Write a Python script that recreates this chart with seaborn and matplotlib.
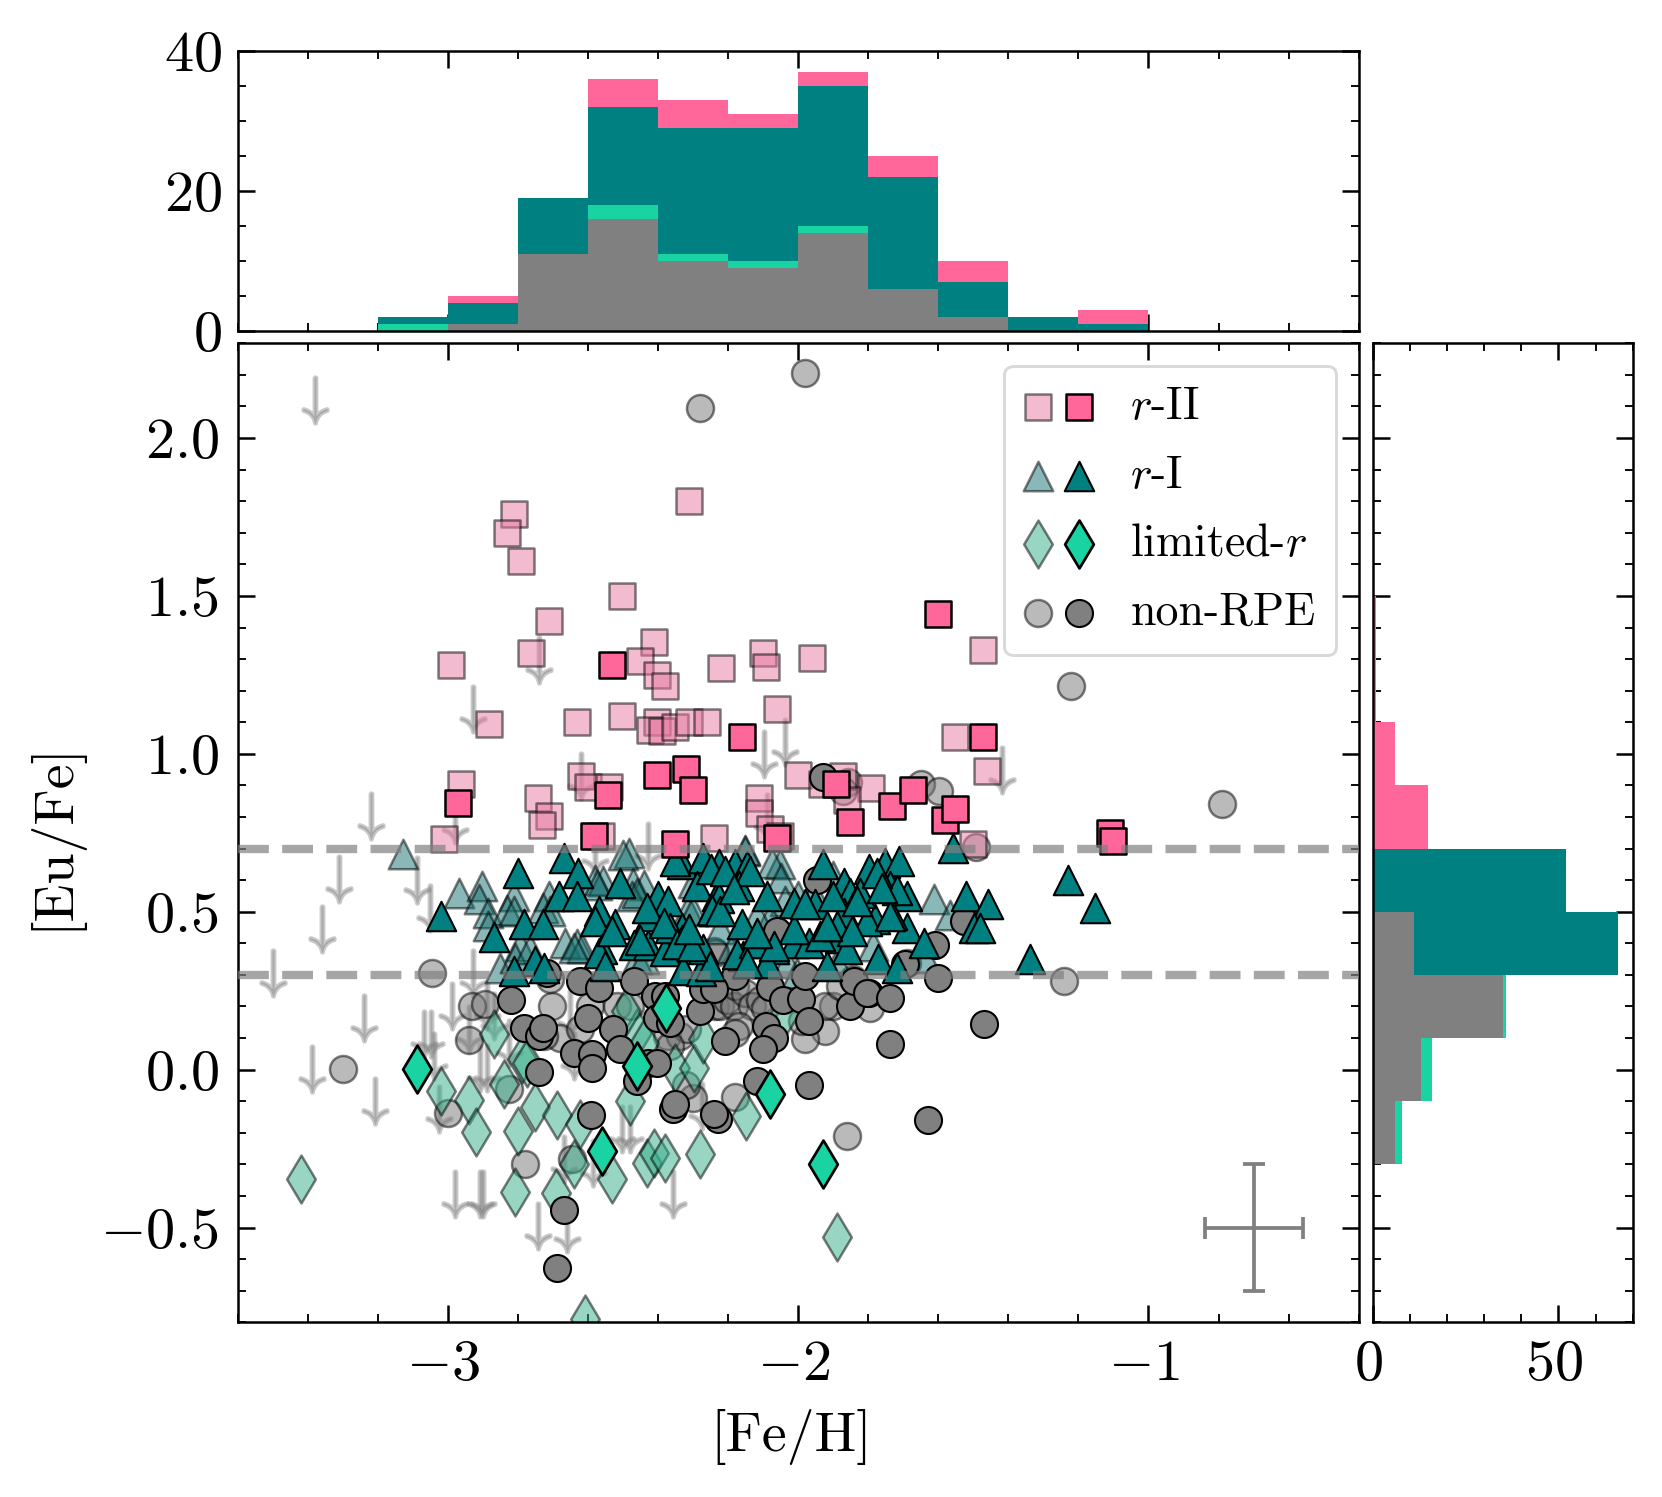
# -*- coding: utf-8 -*-
import numpy as np
import pandas as pd
import matplotlib
matplotlib.use('Agg')
import matplotlib.pyplot as plt
from matplotlib.legend_handler import HandlerTuple
from matplotlib.ticker import MultipleLocator
from matplotlib.transforms import ScaledTranslation
import seaborn as sns

sns.set_style('ticks')
plt.rcParams.update({
    'font.family': 'cmr10',
    'mathtext.fontset': 'cm',
    'axes.formatter.use_mathtext': True,
    'axes.unicode_minus': False,
    'axes.linewidth': 0.6,
    'xtick.direction': 'in', 'ytick.direction': 'in',
    'xtick.top': True, 'ytick.right': True,
    'xtick.major.size': 4, 'ytick.major.size': 4,
    'xtick.minor.size': 2, 'ytick.minor.size': 2,
    'xtick.major.width': 0.6, 'ytick.major.width': 0.6,
    'xtick.minor.width': 0.45, 'ytick.minor.width': 0.45,
    'xtick.color': 'k', 'ytick.color': 'k', 'axes.edgecolor': 'k',
    'text.color': 'k', 'axes.labelcolor': 'k',
    'font.size': 14,
})

# colours
PINK = '#ff6699'
TEAL = '#008080'
GREEN = '#19d3a2'
GRAY = '#808080'
# base colours of the see-through markers
PINK_L = '#e779a1'
TEAL_L = '#177171'
GREEN_L = '#35ad89'
GRAY_L = '#777777'

# ---- histogram counts ----
feh_edges = [-3.2, -3.0, -2.8, -2.6, -2.4, -2.2, -2.0, -1.8, -1.6, -1.4, -1.2, -1.0]
feh_total_rii = [2, 5, 19, 36, 33, 31, 37, 25, 10, 2, 3]
feh_total_ri = [2, 4, 19, 32, 29, 29, 35, 22, 7, 2, 1]
feh_total_lim = [1, 1, 11, 18, 11, 10, 15, 6, 2, 0, 0]
feh_total_non = [0, 1, 11, 16, 10, 9, 14, 6, 2, 0, 0]

eu_edges = [-0.3, -0.1, 0.1, 0.3, 0.5, 0.7, 0.9, 1.1, 1.3, 1.5]
eu_total_rii = [8, 16, 36, 66, 52, 15, 6, 1, 1]
eu_total_ri = [8, 16, 36, 66, 52, 0, 0, 0, 0]
eu_total_lim = [8, 16, 36, 11, 0, 0, 0, 0, 0]
eu_total_non = [6, 13, 35, 11, 0, 0, 0, 0, 0]

# ---- stars, ([Fe/H], [Eu/Fe]) ----
rii_dark = [(-2.97, 0.843), (-2.53, 1.282), (-2.542, 0.871), (-2.582, 0.739), (-2.403, 0.932),
            (-2.32, 0.953), (-2.30, 0.884), (-2.351, 0.713), (-2.161, 1.053), (-2.061, 0.732),
            (-1.893, 0.903), (-1.852, 0.784), (-1.733, 0.834), (-1.673, 0.884), (-1.602, 1.444),
            (-1.581, 0.792), (-1.552, 0.824), (-1.471, 1.053), (-1.11, 0.75), (-1.10, 0.724)]

rii_light = [(-2.311, 1.802), (-2.81, 1.761), (-2.83, 1.70), (-2.79, 1.612), (-2.502, 1.501),
             (-2.71, 1.422), (-2.41, 1.353), (-2.761, 1.32), (-2.99, 1.282), (-2.45, 1.293),
             (-2.402, 1.251), (-2.379, 1.214), (-2.219, 1.273), (-2.881, 1.093), (-2.63, 1.102),
             (-2.502, 1.121), (-2.402, 1.102), (-2.422, 1.074), (-2.389, 1.072), (-2.351, 1.084),
             (-2.311, 1.102), (-2.26, 1.102), (-2.961, 0.903), (-2.62, 0.931), (-2.601, 0.894),
             (-2.541, 0.894), (-2.742, 0.861), (-2.71, 0.803), (-2.73, 0.776), (-3.011, 0.729),
             (-2.562, 0.741), (-2.239, 0.732), (-2.099, 1.32), (-2.091, 1.274), (-1.961, 1.302),
             (-1.471, 1.33), (-2.061, 1.143), (-1.552, 1.053), (-1.462, 0.945), (-2.0, 0.932),
             (-1.873, 0.931), (-1.933, 0.903), (-1.793, 0.892), (-1.861, 0.855), (-2.111, 0.86),
             (-2.111, 0.813), (-2.08, 0.763), (-2.051, 0.74), (-1.502, 0.713)]

ri_dark = [(-2.80, 0.623), (-2.669, 0.671), (-2.629, 0.623), (-2.682, 0.549), (-2.630, 0.549),
           (-2.509, 0.590), (-2.783, 0.46), (-2.729, 0.46), (-2.869, 0.42), (-2.569, 0.502),
           (-2.579, 0.47), (-2.522, 0.46), (-2.560, 0.381), (-2.569, 0.37), (-2.55, 0.328),
           (-2.75, 0.344), (-2.726, 0.323), (-2.81, 0.312), (-2.469, 0.396), (-2.427, 0.396),
           (-2.40, 0.549), (-2.422, 0.486), (-2.37, 0.534), (-2.33, 0.449), (-2.379, 0.375),
           (-2.331, 0.412), (-2.329, 0.317), (-2.277, 0.312), (-2.27, 0.381), (-2.331, 0.65),
           (-2.35, 0.66), (-2.27, 0.671), (-2.289, 0.581), (-2.232, 0.549), (-2.24, 0.502),
           (-2.365, 0.449), (-1.930, 0.650), (-1.799, 0.634), (-1.752, 0.655), (-1.712, 0.660),
           (-1.737, 0.581), (-1.690, 0.549), (-1.870, 0.592), (-1.851, 0.56), (-1.951, 0.523),
           (-2.011, 0.528), (-2.089, 0.549), (-2.18, 0.65), (-2.146, 0.644), (-2.17, 0.581),
           (-2.137, 0.629), (-2.227, 0.65), (-2.227, 0.544), (-2.161, 0.46), (-1.78, 0.476),
           (-1.69, 0.449), (-1.642, 0.402), (-1.87, 0.497), (-1.733, 0.491), (-1.804, 0.47),
           (-1.88, 0.418), (-1.861, 0.381), (-2.011, 0.402), (-1.97, 0.402), (-1.937, 0.423),
           (-2.013, 0.444), (-2.07, 0.381), (-2.156, 0.36), (-2.175, 0.365), (-2.089, 0.338),
           (-1.918, 0.328), (-1.771, 0.349), (-1.718, 0.323), (-2.127, 0.402), (-1.9, 0.549),
           (-1.823, 0.56), (-1.718, 0.57), (-1.775, 0.623), (-2.251, 0.328), (-2.246, 0.507),
           (-2.146, 0.338), (-1.559, 0.703), (-1.231, 0.602), (-1.339, 0.349), (-1.152, 0.513),
           (-1.52, 0.55), (-1.459, 0.523), (-1.499, 0.449), (-1.48, 0.449), (-3.02, 0.488),
           (-2.531, 0.439), (-2.431, 0.512), (-2.384, 0.465), (-2.346, 0.397), (-2.303, 0.391),
           (-2.25, 0.634), (-2.45, 0.412), (-2.312, 0.444), (-2.208, 0.629), (-2.222, 0.502),
           (-2.184, 0.571), (-1.832, 0.534), (-1.737, 0.486), (-1.89, 0.454), (-1.847, 0.439),
           (-1.761, 0.576), (-1.918, 0.454), (-1.98, 0.523), (-2.07, 0.391), (-2.118, 0.433)]

ri_light = [(-3.129, 0.684), (-2.969, 0.56), (-2.903, 0.581), (-2.91, 0.539), (-2.884, 0.497),
            (-2.884, 0.455), (-2.812, 0.55), (-2.831, 0.507), (-2.812, 0.502), (-2.712, 0.55),
            (-2.727, 0.513), (-2.708, 0.502), (-2.579, 0.602), (-2.556, 0.597), (-2.575, 0.586),
            (-2.484, 0.687), (-2.499, 0.681), (-2.47, 0.592), (-2.441, 0.586), (-2.475, 0.55),
            (-2.46, 0.56), (-2.665, 0.402), (-2.632, 0.397), (-2.617, 0.386), (-2.641, 0.386),
            (-2.793, 0.391), (-2.85, 0.323), (-2.808, 0.354), (-2.765, 0.381), (-2.46, 0.349),
            (-2.441, 0.349), (-2.299, 0.592), (-2.313, 0.507), (-2.299, 0.502), (-2.151, 0.692),
            (-2.151, 0.697), (-2.051, 0.65), (-2.075, 0.655), (-2.049, 0.607), (-2.037, 0.534),
            (-1.999, 0.549), (-2.08, 0.481), (-2.222, 0.444), (-2.189, 0.386), (-1.785, 0.391),
            (-1.612, 0.539), (-1.566, 0.491), (-1.637, 0.354), (-1.899, 0.613), (-1.956, 0.555),
            (-2.104, 0.402), (-2.118, 0.486), (-2.032, 0.338), (-2.004, 0.307), (-1.889, 0.338)]

lim_dark = [(-3.088, 0.003), (-2.377, 0.196), (-2.46, 0.012), (-2.561, -0.257), (-2.08, -0.077),
            (-1.93, -0.30)]

lim_light = [(-3.42, -0.347), (-3.019, -0.068), (-2.94, -0.097), (-2.92, -0.196), (-2.84, -0.047),
             (-2.80, -0.194), (-2.75, -0.117), (-2.688, -0.143), (-2.622, -0.173), (-2.64, -0.30),
             (-2.69, -0.389), (-2.809, -0.387), (-2.53, -0.347), (-2.481, -0.099), (-2.43, -0.294),
             (-2.41, -0.263), (-2.379, -0.279), (-2.279, -0.268), (-2.149, -0.147), (-2.869, 0.112),
             (-2.788, 0.033), (-2.46, 0.117), (-2.441, 0.085), (-2.35, 0.006), (-2.298, 0.006),
             (-2.27, 0.096), (-2.609, -0.79), (-1.89, -0.53), (-2.04, 0.175), (-2.774, 0.022),
             (-2.49, 0.186)]

non_dark = [(-2.819, 0.222), (-2.781, 0.133), (-2.74, 0.106), (-2.729, 0.133), (-2.6, 0.162),
            (-2.529, 0.128), (-2.509, 0.064), (-2.641, 0.054), (-2.588, 0.048), (-2.588, 0.006),
            (-2.74, -0.006), (-2.622, 0.28), (-2.569, 0.26), (-2.717, 0.307), (-2.469, 0.28),
            (-2.408, 0.233), (-2.379, 0.233), (-2.403, 0.164), (-2.365, 0.149), (-2.279, 0.186),
            (-2.27, 0.254), (-2.21, 0.091), (-2.427, 0.022), (-2.403, 0.022), (-2.18, 0.296),
            (-2.08, 0.262), (-2.042, 0.222), (-1.992, 0.224), (-1.98, 0.296), (-1.97, 0.154),
            (-2.091, 0.138), (-2.07, 0.101), (-2.099, 0.064), (-1.851, 0.201), (-1.84, 0.28),
            (-1.799, 0.244), (-1.804, 0.244), (-1.737, 0.228), (-1.739, 0.082), (-1.601, 0.291),
            (-1.609, 0.394), (-1.947, 0.602), (-2.061, 0.439), (-1.694, 0.333), (-2.24, 0.254),
            (-1.47, 0.143), (-1.527, 0.47), (-2.46, -0.036), (-2.59, -0.145), (-2.669, -0.445),
            (-2.688, -0.627), (-2.357, -0.126), (-2.351, -0.11), (-2.229, -0.157), (-2.241, -0.141),
            (-2.118, -0.036), (-1.97, -0.05), (-1.63, -0.158), (-1.93, 0.928)]

non_light = [(-1.98, 2.205), (-2.28, 2.094), (-1.22, 1.216), (-0.79, 0.842), (-1.65, 0.903),
             (-1.598, 0.882), (-1.492, 0.706), (-1.859, 0.911), (-1.871, 0.882), (-1.24, 0.28),
             (-3.045, 0.306), (-2.93, 0.20), (-2.94, 0.094), (-3.30, 0.003), (-3.00, -0.138),
             (-2.78, -0.30), (-1.86, -0.21), (-2.18, -0.088), (-2.30, -0.09), (-2.32, -0.05),
             (-2.645, -0.283), (-2.825, -0.06), (-2.702, 0.201), (-2.707, 0.286), (-2.679, 0.101),
             (-2.726, 0.106), (-2.593, 0.201), (-2.622, 0.128), (-2.517, 0.201), (-2.479, 0.201),
             (-2.374, 0.106), (-2.336, 0.106), (-2.317, 0.128), (-2.365, 0.075), (-2.893, 0.207),
             (-2.241, 0.375), (-2.236, 0.201), (-2.237, 0.37), (-2.222, 0.2), (-2.203, 0.222),
             (-2.184, 0.2), (-2.18, 0.265), (-2.151, 0.244), (-2.132, 0.2), (-2.108, 0.222),
             (-2.094, 0.196), (-2.17, 0.138), (-2.18, 0.117), (-1.923, 0.122), (-1.98, 0.096),
             (-1.99, 0.154), (-1.899, 0.201), (-1.923, 0.201), (-1.88, 0.265), (-1.794, 0.196),
             (-1.842, 0.286), (-1.69, 0.338)]

upper_limits = [(-3.378, 2.121), (-2.739, 1.298), (-2.928, 1.142), (-3.219, 0.803), (-2.978, 0.792),
                (-2.62, 0.929), (-2.097, 0.998), (-2.037, 1.039), (-1.418, 0.95), (-2.088, 0.80),
                (-2.428, 0.707), (-3.088, 0.602), (-3.31, 0.603), (-3.05, 0.513), (-2.579, 0.692),
                (-2.928, 0.307), (-2.988, 0.2), (-3.5, 0.306), (-3.36, 0.444), (-3.388, 0.003),
                (-3.207, -0.099), (-3.24, 0.164), (-3.069, 0.112), (-3.048, 0.112), (-3.04, 0.043),
                (-2.94, 0.128), (-3.026, -0.126), (-2.907, 0.006), (-2.888, 0.006), (-2.869, 0.17),
                (-2.888, 0.2), (-2.826, 0.085), (-2.979, -0.395), (-2.907, -0.395), (-2.9, -0.395),
                (-2.741, -0.495), (-2.66, -0.505), (-2.357, -0.395), (-2.667, -0.284), (-2.584, -0.294),
                (-2.503, -0.189), (-2.481, -0.189), (-2.275, -0.115), (-2.64, 0.043), (-2.65, 0.18)]

limit_lines = [0.3, 0.7]
err_x, err_y = -0.7, -0.5
err_feh, err_eu = 0.14, 0.2

LIGHT_A = 0.5


def stars(rows):
    return pd.DataFrame(rows, columns=['feh', 'eu'])


# ---- layout, axes positions in figure pixels ----
W, H = 1662, 1497
fig = plt.figure(figsize=(W / 300, H / 300), dpi=300)


def add_ax(x0, y0, x1, y1):
    return fig.add_axes([x0 / W, 1 - y1 / H, (x1 - x0) / W, (y1 - y0) / H])


ax = add_ax(237.5, 343.3, 1358.7, 1322.3)
ax_top = add_ax(237.5, 51, 1358.7, 331)
ax_right = add_ax(1372.7, 343.3, 1632.7, 1322.3)

# ---- scatter ----
sns.scatterplot(data=stars(upper_limits), x='feh', y='eu', marker=r'$\downarrow$', s=125, color=GRAY,
                alpha=0.42, linewidth=0.9, edgecolor=GRAY, ax=ax, zorder=1)

light_style = dict(alpha=LIGHT_A, edgecolor='k', linewidth=0.6, ax=ax, zorder=2)
dark_style = dict(edgecolor='k', linewidth=0.5, ax=ax, zorder=3)

sns.scatterplot(data=stars(non_light), x='feh', y='eu', marker='o', s=42, color=GRAY_L, **light_style)
h_non_l = ax.collections[-1]
sns.scatterplot(data=stars(lim_light), x='feh', y='eu', marker='d', s=66, color=GREEN_L, **light_style)
h_lim_l = ax.collections[-1]
sns.scatterplot(data=stars(ri_light), x='feh', y='eu', marker='^', s=50, color=TEAL_L, **light_style)
h_ri_l = ax.collections[-1]
sns.scatterplot(data=stars(rii_light), x='feh', y='eu', marker='s', s=40, color=PINK_L, **light_style)
h_rii_l = ax.collections[-1]

sns.scatterplot(data=stars(non_dark), x='feh', y='eu', marker='o', s=42, color=GRAY, **dark_style)
h_non_d = ax.collections[-1]
sns.scatterplot(data=stars(lim_dark), x='feh', y='eu', marker='d', s=66, color=GREEN, edgecolor='k',
                linewidth=0.65, ax=ax, zorder=3)
h_lim_d = ax.collections[-1]
sns.scatterplot(data=stars(ri_dark), x='feh', y='eu', marker='^', s=50, color=TEAL, **dark_style)
h_ri_d = ax.collections[-1]
sns.scatterplot(data=stars(rii_dark), x='feh', y='eu', marker='s', s=40, color=PINK, edgecolor='k',
                linewidth=0.6, ax=ax, zorder=3)
h_rii_d = ax.collections[-1]

for level in limit_lines:
    ax.axhline(level, color='gray', lw=2, ls='--', alpha=0.7, zorder=4)

ax.errorbar(err_x, err_y, xerr=err_feh, yerr=err_eu, color='gray', capsize=2.7, lw=0.9,
            capthick=0.9, zorder=5)

ax.set_xlim(-3.6, -0.4)
ax.set_ylim(-0.8, 2.3)
ax.set_xlabel('[Fe/H]', fontsize=13.4, labelpad=4.2)
ax.set_ylabel('[Eu/Fe]', fontsize=13.4, labelpad=4.5)
ax.xaxis.label.set_x(0.494)
ax.yaxis.label.set_y(0.497)
ax.xaxis.set_major_locator(MultipleLocator(1))
ax.xaxis.set_minor_locator(MultipleLocator(0.2))
ax.yaxis.set_major_locator(MultipleLocator(0.5))
ax.yaxis.set_minor_locator(MultipleLocator(0.1))
ax.tick_params(labelsize=14)
ax.tick_params(axis='x', pad=4.3)
ax.tick_params(axis='y', pad=4.5)

# ---- top histogram ----
feh_mid = [(a + b) / 2 for a, b in zip(feh_edges[:-1], feh_edges[1:])]
for counts, col in [(feh_total_rii, PINK), (feh_total_ri, TEAL), (feh_total_lim, GREEN), (feh_total_non, GRAY)]:
    sns.histplot(x=feh_mid, weights=counts, bins=feh_edges, color=col, alpha=1, linewidth=0, ax=ax_top)
ax_top.set_xlim(-3.6, -0.4)
ax_top.set_ylim(0, 40)
ax_top.set_xlabel('')
ax_top.set_ylabel('')
ax_top.xaxis.set_major_locator(MultipleLocator(1))
ax_top.xaxis.set_minor_locator(MultipleLocator(0.2))
ax_top.yaxis.set_major_locator(MultipleLocator(20))
ax_top.yaxis.set_minor_locator(MultipleLocator(5))
ax_top.tick_params(labelbottom=False, labelsize=14)
ax_top.tick_params(axis='y', pad=3.8)

# ---- right histogram ----
eu_mid = [(a + b) / 2 for a, b in zip(eu_edges[:-1], eu_edges[1:])]
for counts, col in [(eu_total_rii, PINK), (eu_total_ri, TEAL), (eu_total_lim, GREEN), (eu_total_non, GRAY)]:
    sns.histplot(y=eu_mid, weights=counts, bins=eu_edges, color=col, alpha=1, linewidth=0, ax=ax_right)
ax_right.set_xlim(0, 70)
ax_right.set_ylim(-0.8, 2.3)
ax_right.set_xlabel('')
ax_right.set_ylabel('')
ax_right.xaxis.set_major_locator(MultipleLocator(50))
ax_right.xaxis.set_minor_locator(MultipleLocator(10))
ax_right.yaxis.set_major_locator(MultipleLocator(0.5))
ax_right.yaxis.set_minor_locator(MultipleLocator(0.1))
ax_right.tick_params(labelleft=False, labelsize=14)
ax_right.tick_params(axis='x', pad=4.3)

for a in (ax, ax_top, ax_right):
    a.tick_params(which='both', top=True, right=True)

# nudge the bottom tick labels a little to the left
shift = ScaledTranslation(-4.5 / 300, 0, fig.dpi_scale_trans)
for a in (ax, ax_right):
    for lab in a.get_xticklabels():
        lab.set_transform(lab.get_transform() + shift)

# ---- legend ----
leg = ax.legend([(h_rii_l, h_rii_d), (h_ri_l, h_ri_d), (h_lim_l, h_lim_d), (h_non_l, h_non_d)],
                [r'$r$-II', r'$r$-I', r'limited-$r$', 'non-RPE'],
                handler_map={tuple: HandlerTuple(ndivide=None, pad=0.345)},
                scatterpoints=1, frameon=True, fancybox=True, framealpha=1, edgecolor='0.85',
                loc='upper right', bbox_to_anchor=(0.98, 0.977), borderaxespad=0,
                fontsize=11, labelspacing=0.59, handlelength=1.45, handletextpad=0.85,
                borderpad=0.45)
leg.set_zorder(6)
leg.get_frame().set_linewidth(0.7)

fig.savefig('out.png', dpi=300)
